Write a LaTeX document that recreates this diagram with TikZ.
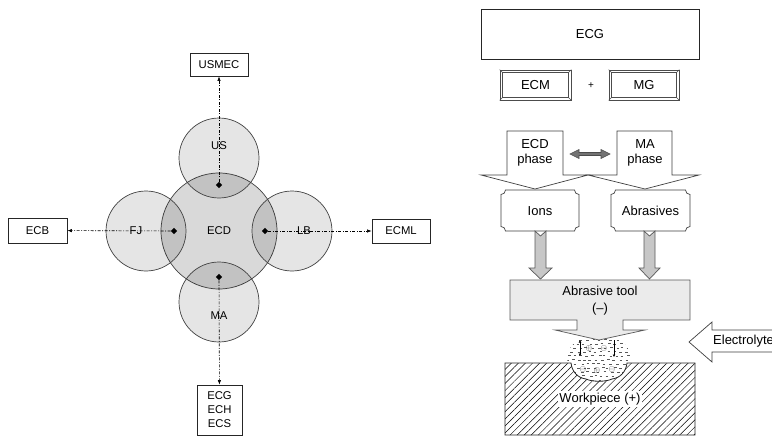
\documentclass[tikz,border=0pt]{standalone}
\usepackage{fontspec}
\setmainfont{Liberation Sans}
\usetikzlibrary{arrows.meta,shapes.geometric,patterns.meta}
\newcommand\bevelframe[1]{%
  \draw[frm] ([shift={(3,3)}]#1.north west) rectangle ([shift={(-3,-3)}]#1.south east);
  \draw[frm] (#1.north west) -- ++(3,3) (#1.north east) -- ++(-3,3)
             (#1.south west) -- ++(3,-3) (#1.south east) -- ++(-3,-3);}
\newcommand\notchbox[4]{%
  \draw[shp] (#1+4.5,#2) -- (#3-4.5,#2) arc[start angle=180,end angle=270,radius=4.5pt]
    -- (#3,#4-4.5) arc[start angle=90,end angle=180,radius=4.5pt]
    -- (#1+4.5,#4) arc[start angle=0,end angle=90,radius=4.5pt]
    -- (#1,#2+4.5) arc[start angle=270,end angle=360,radius=4.5pt] -- cycle;}
\begin{document}
\begin{tikzpicture}[x=1pt,y=-1pt,
  lf/.style={font=\fontsize{11.3}{14}\selectfont},
  rf/.style={font=\fontsize{13}{16}\selectfont},
  box/.style={draw=black!85, line width=0.8pt, fill=white, inner sep=0pt},
  ring/.style={circle, draw=black!75, line width=0.7pt, inner sep=0pt,
               minimum size=80pt, fill=black, fill opacity=0.1},
  dot/.style={diamond, fill=black, inner sep=0pt, minimum size=6.5pt},
  dd/.style={line width=0.6pt, dash pattern=on 3pt off 1.5pt on 1pt off 1.5pt,
             -{Latex[length=4.5pt,width=3.4pt]}},
  frm/.style={draw=black!70, line width=0.6pt},
  shp/.style={draw=black!75, line width=0.7pt, fill=white},
  garrow/.style={draw=black!65, line width=0.7pt, fill=black!22},
  elyte/.style={draw=black!65, line width=0.6pt},
  chg/.style={font=\footnotesize, inner sep=0pt, text=black!80}
]
\useasboundingbox (0,0) rectangle (772,436);
\clip (0,0) rectangle (772,436);
\fill[white] (0,0) rectangle (772,436);

% ---------------- left diagram ----------------
\node[ring, minimum size=116pt, fill opacity=0.15] (ecd) at (219,231) {};
\node[ring] (us) at (219,158) {};
\node[ring] (fj) at (146,231) {};
\node[ring] (lb) at (292,231) {};
\node[ring] (ma) at (219,302) {};
\node[lf] (tecd) at (219,231) {ECD};
\node[lf] (tus) at (219,146) {US};
\node[lf] (tfj) at (136,231) {FJ};
\node[lf] (tlb) at (304,231) {LB};
\node[lf] (tma) at (219,316) {MA};

\node[box, lf, minimum width=58pt, minimum height=23pt] (usmec) at (219,64.5) {USMEC};
\node[box, lf, minimum width=59pt, minimum height=25pt] (ecb) at (37.5,230.5) {ECB};
\node[box, lf, minimum width=58pt, minimum height=24pt] (ecml) at (401,231) {ECML};
\node[box, lf, minimum width=45pt, minimum height=50pt, align=center,
      font=\fontsize{11.3}{14}\selectfont] (ecgs) at (219.5,410) {ECG\\ECH\\ECS};

\node[dot] (d1) at (219,185) {};
\node[dot] (d2) at (174,231) {};
\node[dot] (d3) at (265,231) {};
\node[dot] (d4) at (219,277) {};
\draw[dd] (d1) -- (usmec);
\draw[dd] (d2) -- (ecb);
\draw[dd] (d3) -- (ecml);
\draw[dd] (d4) -- (ecgs);

% ---------------- right diagram ----------------
\node[box, rf, minimum width=218pt, minimum height=50pt] (ecg) at (590,34) {ECG};
\node[box, rf, draw=black!70, line width=0.6pt, minimum width=71pt, minimum height=30pt] (ecm) at (535.5,85) {ECM};
\node[box, rf, draw=black!70, line width=0.6pt, minimum width=70pt, minimum height=30pt] (mg) at (644,85) {MG};
\bevelframe{ecm}
\bevelframe{mg}
\node[font=\fontsize{10}{12}\selectfont] (plus) at (591,86) {+};

% phase block arrows
\draw[shp] (507,131) -- (563,131) -- (563,175) -- (588,175) -- (535,189) -- (481,175) -- (507,175) -- cycle;
\draw[shp] (617,131) -- (672,131) -- (672,175) -- (699,175) -- (645,189) -- (588,175) -- (617,175) -- cycle;
\node[rf, align=center, font=\fontsize{13}{15}\selectfont] (ecdph) at (535,153) {ECD\\phase};
\node[rf, align=center, font=\fontsize{13}{15}\selectfont] (maph) at (645,153) {MA\\phase};
\draw[draw=black!70, line width=0.6pt, fill=black!55]
  (570,154) -- (579,149.5) -- (579,152.5) -- (601,152.5) -- (601,149.5) -- (610,154)
  -- (601,158.5) -- (601,155.5) -- (579,155.5) -- (579,158.5) -- cycle;

% Ions / Abrasives
\notchbox{501}{190}{579}{231}
\notchbox{611}{190}{690}{231}
\node[rf] (ions) at (540,211) {Ions};
\node[rf] (abr) at (650.5,211) {Abrasives};

% gray arrows
\draw[garrow] (535,231) -- (540.5,236) -- (546,231) -- (546,268) -- (552,268) -- (540.5,279)
  -- (529,268) -- (535,268) -- cycle;
\draw[garrow] (644,231) -- (649.5,236) -- (655,231) -- (655,268) -- (660,268) -- (649.5,279)
  -- (639,268) -- (644,268) -- cycle;

% electrolyte in gap
\begin{scope}
  \clip (599,358) ellipse [x radius=32pt, y radius=23pt];
  \pgfmathsetseed{7}
  \foreach \r in {0,...,11}{
    \foreach \c in {0,...,11}{
      \pgfmathsetmacro\xx{565+\c*6+mod(\r,2)*3+1.6*rand}
      \pgfmathsetmacro\yy{336+\r*4+0.8*rand}
      \draw[elyte] (\xx,\yy) -- ++(2.6,0);
    }}
\end{scope}

% workpiece
\draw[line width=0.8pt, draw=black!85, preaction={fill=white},
      pattern={Lines[angle=45,distance=5pt,line width=0.5pt]}]
  (505,363) -- (571,363) .. controls (572,372) and (578,378) .. (586,379)
  .. controls (592,382) and (606,382) .. (612,379)
  .. controls (620,378) and (626,372) .. (627,363) -- (695,363) -- (695,435) -- (505,435) -- cycle;
\node[rf, fill=white, inner sep=1.5pt] (wp) at (600,399) {Workpiece (+)};

% charges and small arrows in the gap
\node[chg] (c1) at (589,348) {$\oplus$};
\node[chg] (c2) at (604,348) {$\ominus$};
\node[chg] (c3) at (583,369) {$\ominus$};
\node[chg] (c4) at (597,370) {$\oplus$};
\node[chg] (c5) at (612,369) {$\ominus$};
\coordinate (a1t) at (580,340); \coordinate (a1b) at (580,356);
\coordinate (a2t) at (614,340); \coordinate (a2b) at (614,357);
\draw[line width=0.7pt, {Latex[length=2.5pt,width=2.8pt]}-{Latex[length=2.5pt,width=2.8pt]}] (a1t) -- (a1b);
\draw[line width=0.7pt, -{Latex[length=2.5pt,width=2.8pt]}] (a2t) -- (a2b);

% abrasive tool
\draw[draw=black!65, line width=0.7pt, fill=black!8]
  (510,280) -- (690,280) -- (690,320) -- (623,320) -- (623,330) -- (645,330) -- (599,340)
  -- (555,330) -- (577,330) -- (577,320) -- (510,320) -- cycle;
\node[rf, align=center, font=\fontsize{13}{17}\selectfont] (tool) at (600,301) {Abrasive tool\\(--)};

% electrolyte arrow
\draw[shp] (689,342) -- (712,322) -- (712,330) -- (780,330) -- (780,352) -- (712,352) -- (712,362) -- cycle;
\node[rf, anchor=west, inner sep=0pt] (elec) at (713,341) {Electrolyte};
\end{tikzpicture}
\end{document}
